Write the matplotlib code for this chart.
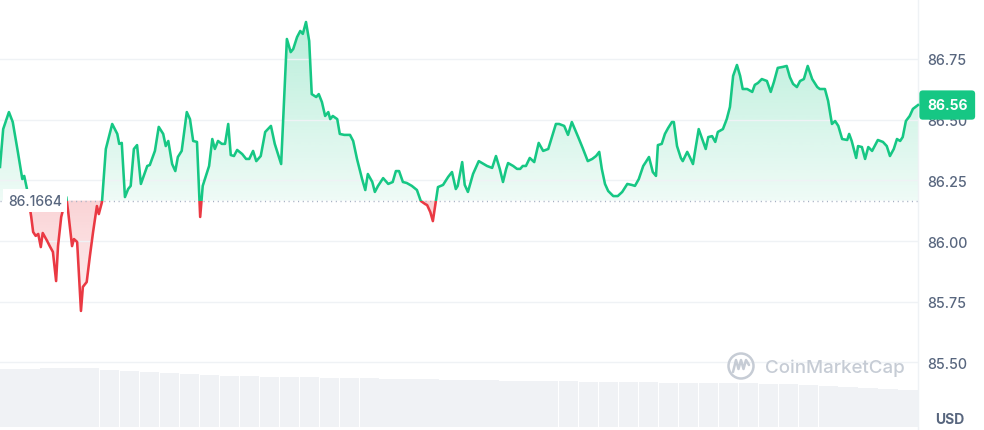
import matplotlib
matplotlib.use("Agg")
import matplotlib.pyplot as plt
import numpy as np
import matplotlib.colors as mcolors
from matplotlib.patches import Rectangle, Ellipse
from matplotlib.path import Path
from matplotlib.lines import Line2D

# ---------------- data ----------------
minutes = [
    0, 5, 14, 20, 28, 35, 38, 42, 49, 52, 56, 60,
    64, 67, 74, 78, 83, 88, 91, 96, 104, 107, 113, 116,
    121, 127, 130, 136, 141, 146, 152, 155, 160, 166, 176, 184,
    187, 191, 196, 201, 205, 210, 215, 221, 231, 235, 243, 249,
    256, 260, 264, 270, 275, 279, 285, 293, 298, 303, 309, 314,
    318, 325, 328, 333, 337, 342, 348, 353, 358, 362, 367, 372,
    380, 386, 391, 397, 402, 409, 416, 425, 431, 436, 441, 450,
    456, 460, 466, 471, 475, 480, 485, 489, 496, 500, 505, 510,
    515, 518, 522, 529, 533, 540, 549, 554, 560, 568, 573, 577,
    584, 588, 593, 601, 609, 616, 621, 626, 632, 638, 646, 654,
    660, 667, 670, 675, 679, 687, 695, 703, 709, 715, 718, 725,
    729, 734, 742, 751, 764, 772, 778, 784, 789, 794, 797, 805,
    811, 816, 820, 825, 831, 838, 845, 852, 860, 872, 877, 885,
    891, 897, 907, 914, 922, 929, 935, 940, 944, 949, 954, 962,
    969, 976, 984, 991, 996, 1002, 1009, 1013, 1018, 1024, 1029, 1032,
    1038, 1043, 1048, 1054, 1057, 1062, 1068, 1071, 1078, 1082, 1087, 1096,
    1101, 1107, 1111, 1117, 1122, 1126, 1134, 1140, 1145, 1150, 1156, 1161,
    1165, 1172, 1180, 1184, 1189, 1195, 1203, 1209, 1214, 1220, 1228, 1234,
    1239, 1244, 1250, 1255, 1261, 1267, 1274, 1282, 1286, 1294, 1299, 1305,
    1310, 1315, 1321, 1329, 1332, 1336, 1343, 1346, 1352, 1357, 1362, 1368,
    1377, 1385, 1391, 1396, 1402, 1407, 1412, 1416, 1421, 1427, 1432, 1440,
]
prices = [
    86.305, 86.461, 86.531, 86.490, 86.367, 86.255, 86.268, 86.218, 86.099, 86.037, 86.021, 86.029,
    85.975, 86.033, 86.000, 85.979, 85.955, 85.835, 85.979, 86.099, 86.181, 86.119, 85.979, 86.008,
    85.996, 85.712, 85.811, 85.831, 85.938, 86.037, 86.144, 86.111, 86.161, 86.379, 86.482, 86.441,
    86.400, 86.404, 86.181, 86.214, 86.227, 86.379, 86.395, 86.235, 86.309, 86.313, 86.371, 86.470,
    86.441, 86.391, 86.412, 86.317, 86.288, 86.346, 86.371, 86.531, 86.502, 86.412, 86.408, 86.099,
    86.227, 86.284, 86.309, 86.420, 86.379, 86.412, 86.400, 86.400, 86.482, 86.354, 86.350, 86.375,
    86.358, 86.338, 86.338, 86.371, 86.329, 86.350, 86.449, 86.474, 86.400, 86.358, 86.317, 86.832,
    86.778, 86.791, 86.840, 86.865, 86.853, 86.902, 86.824, 86.605, 86.593, 86.605, 86.572, 86.515,
    86.531, 86.502, 86.515, 86.502, 86.441, 86.437, 86.437, 86.412, 86.338, 86.255, 86.210, 86.276,
    86.243, 86.202, 86.227, 86.259, 86.235, 86.243, 86.288, 86.288, 86.243, 86.239, 86.227, 86.210,
    86.165, 86.152, 86.148, 86.119, 86.082, 86.222, 86.231, 86.264, 86.284, 86.214, 86.227, 86.325,
    86.231, 86.202, 86.276, 86.329, 86.309, 86.301, 86.350, 86.297, 86.243, 86.297, 86.321, 86.309,
    86.297, 86.297, 86.309, 86.309, 86.342, 86.325, 86.404, 86.371, 86.379, 86.482, 86.482, 86.474,
    86.437, 86.490, 86.428, 86.383, 86.329, 86.338, 86.350, 86.367, 86.297, 86.235, 86.206, 86.185,
    86.185, 86.202, 86.235, 86.231, 86.227, 86.255, 86.309, 86.325, 86.346, 86.284, 86.268, 86.395,
    86.400, 86.441, 86.465, 86.490, 86.490, 86.391, 86.342, 86.329, 86.367, 86.346, 86.317, 86.461,
    86.424, 86.379, 86.428, 86.432, 86.408, 86.449, 86.461, 86.502, 86.552, 86.680, 86.725, 86.680,
    86.626, 86.626, 86.614, 86.643, 86.651, 86.667, 86.659, 86.614, 86.655, 86.713, 86.717, 86.721,
    86.675, 86.647, 86.634, 86.659, 86.667, 86.721, 86.667, 86.634, 86.626, 86.626, 86.577, 86.482,
    86.494, 86.474, 86.420, 86.416, 86.441, 86.412, 86.342, 86.391, 86.387, 86.338, 86.387, 86.371,
    86.416, 86.408, 86.391, 86.350, 86.379, 86.420, 86.412, 86.428, 86.494, 86.515, 86.544, 86.560,
]
open_price = 86.1664
last_price = 86.56

volume = [
    58, 58, 59, 59, 59, 57, 56, 55, 54, 53, 52, 51, 51, 50, 50, 50,
    49, 49, 49, 48, 48, 48, 47, 47, 47, 46, 46, 46, 46, 45, 45, 45,
    45, 44, 44, 44, 44, 44, 43, 43, 42, 41, 40, 39, 38, 37,
]
ytick_values = [85.50, 85.75, 86.00, 86.25, 86.50, 86.75]
currency = "USD"
watermark = "CoinMarketCap"

# ---------------- style ----------------
GREEN = "#16c784"
RED = "#ea3943"
GREY = "#58667e"
GRID = "#eff2f5"

plt.rcParams["font.family"] = ["Inter", "DejaVu Sans"]

W, H = 984, 431
fig = plt.figure(figsize=(W / 100, H / 100), dpi=100)
fig.patch.set_facecolor("white")
axr = 918 / W

# volume axes (bottom strip)
axv = fig.add_axes([0, 3 / H, axr, 70 / H])
n = len(volume)
step = 1440 / n
vx = np.arange(n) * step + step / 2
axv.bar(vx, volume, width=step * 0.97, color="#f0f2f5", linewidth=0)
axv.set_xlim(0, 1440)
axv.set_ylim(0, 70)
axv.axis("off")

# main price axes
ax = fig.add_axes([0, 0, axr, 1])
ax.set_facecolor("none")

t = np.array(minutes, dtype=float)
p = np.array(prices, dtype=float)

green_fill = ax.fill_between(t, p, open_price, where=p >= open_price,
                             interpolate=True, facecolor="none", edgecolor="none")
red_fill = ax.fill_between(t, p, open_price, where=p <= open_price,
                           interpolate=True, facecolor="none", edgecolor="none")


def gradient_fill(coll, color, a_top, a_bot, y0, y1):
    paths = coll.get_paths()
    if not paths:
        return
    cp = Path.make_compound_path(*paths)
    rgb = mcolors.to_rgb(color)
    N = 256
    img = np.zeros((N, 1, 4))
    img[:, :, :3] = rgb
    img[:, 0, 3] = np.linspace(a_top, a_bot, N)
    im = ax.imshow(img, extent=[0, 1440, y0, y1], aspect="auto",
                   origin="upper", zorder=1, interpolation="bilinear")
    im.set_clip_path(cp, ax.transData)


gradient_fill(green_fill, GREEN, 0.30, 0.07, open_price, p.max())
gradient_fill(red_fill, RED, 0.22, 0.08, p.min(), open_price)

lg, = ax.plot(t, p, color=GREEN, lw=1.85, zorder=3, solid_joinstyle="round")
lr, = ax.plot(t, p, color=RED, lw=1.85, zorder=3, solid_joinstyle="round")
lg.set_clip_path(Rectangle((-10, open_price), 1460, 10, transform=ax.transData))
lr.set_clip_path(Rectangle((-10, open_price - 10), 1460, 10, transform=ax.transData))

ax.axhline(open_price, color="#a6b0c3", lw=1.0, ls=(0, (0.8, 2.6)), zorder=2)

ax.set_xlim(0, 1440)
ax.set_ylim(85.2216, 86.9967)
ax.set_xticks([])
ax.yaxis.tick_right()
ax.set_yticks(ytick_values)
ax.set_yticklabels([f"{v:.2f}" for v in ytick_values])
ax.tick_params(axis="y", length=0, pad=6.5, labelsize=10.25, labelcolor=GREY)
for lbl in ax.get_yticklabels():
    lbl.set_fontweight("medium")
ax.grid(axis="y", color=GRID, lw=1, zorder=0)
for s in ["top", "left", "bottom"]:
    ax.spines[s].set_visible(False)
ax.spines["right"].set_color(GRID)
ax.spines["right"].set_linewidth(1)

# open price label
ax.annotate(f"{open_price:.4f}", xy=(8 / 918, open_price),
            xycoords=("axes fraction", "data"), va="center", ha="left",
            fontsize=10, color=GREY, fontweight="medium", zorder=5,
            bbox=dict(boxstyle="square,pad=0.35", fc="white", ec="none"))

# last price label
ax.annotate(f"{last_price:.2f}", xy=(1, last_price),
            xycoords=("axes fraction", "data"), xytext=(9, 0),
            textcoords="offset pixels", va="center", ha="left",
            fontsize=10, color="white", fontweight="bold", zorder=6,
            annotation_clip=False,
            bbox=dict(boxstyle="round,pad=0.55,rounding_size=0.25",
                      fc=GREEN, ec="none"))

# currency label
fig.text(950 / W, 1 - 420 / H, currency, ha="center", va="center",
         fontweight="bold", color=GREY, fontsize=10)

# watermark
WM = "#c6ccd5"
fig.text(765 / W, 1 - 368 / H, watermark, ha="left", va="center",
         color=WM, fontsize=13.5, fontweight="medium")
fig.add_artist(Ellipse((741 / W, 1 - 367 / H), 25 / W, 25 / H,
                       transform=fig.transFigure, fill=False, ec=WM, lw=1.8))
mx = np.array([733, 736, 738.5, 741, 743.5, 746, 749]) / W
my = 1 - np.array([373, 361, 370, 361, 370, 361, 366]) / H
fig.add_artist(Line2D(mx, my, transform=fig.transFigure, color=WM, lw=1.8,
                      solid_joinstyle="round", solid_capstyle="round"))

fig.savefig("out.png", dpi=100, facecolor="white")
